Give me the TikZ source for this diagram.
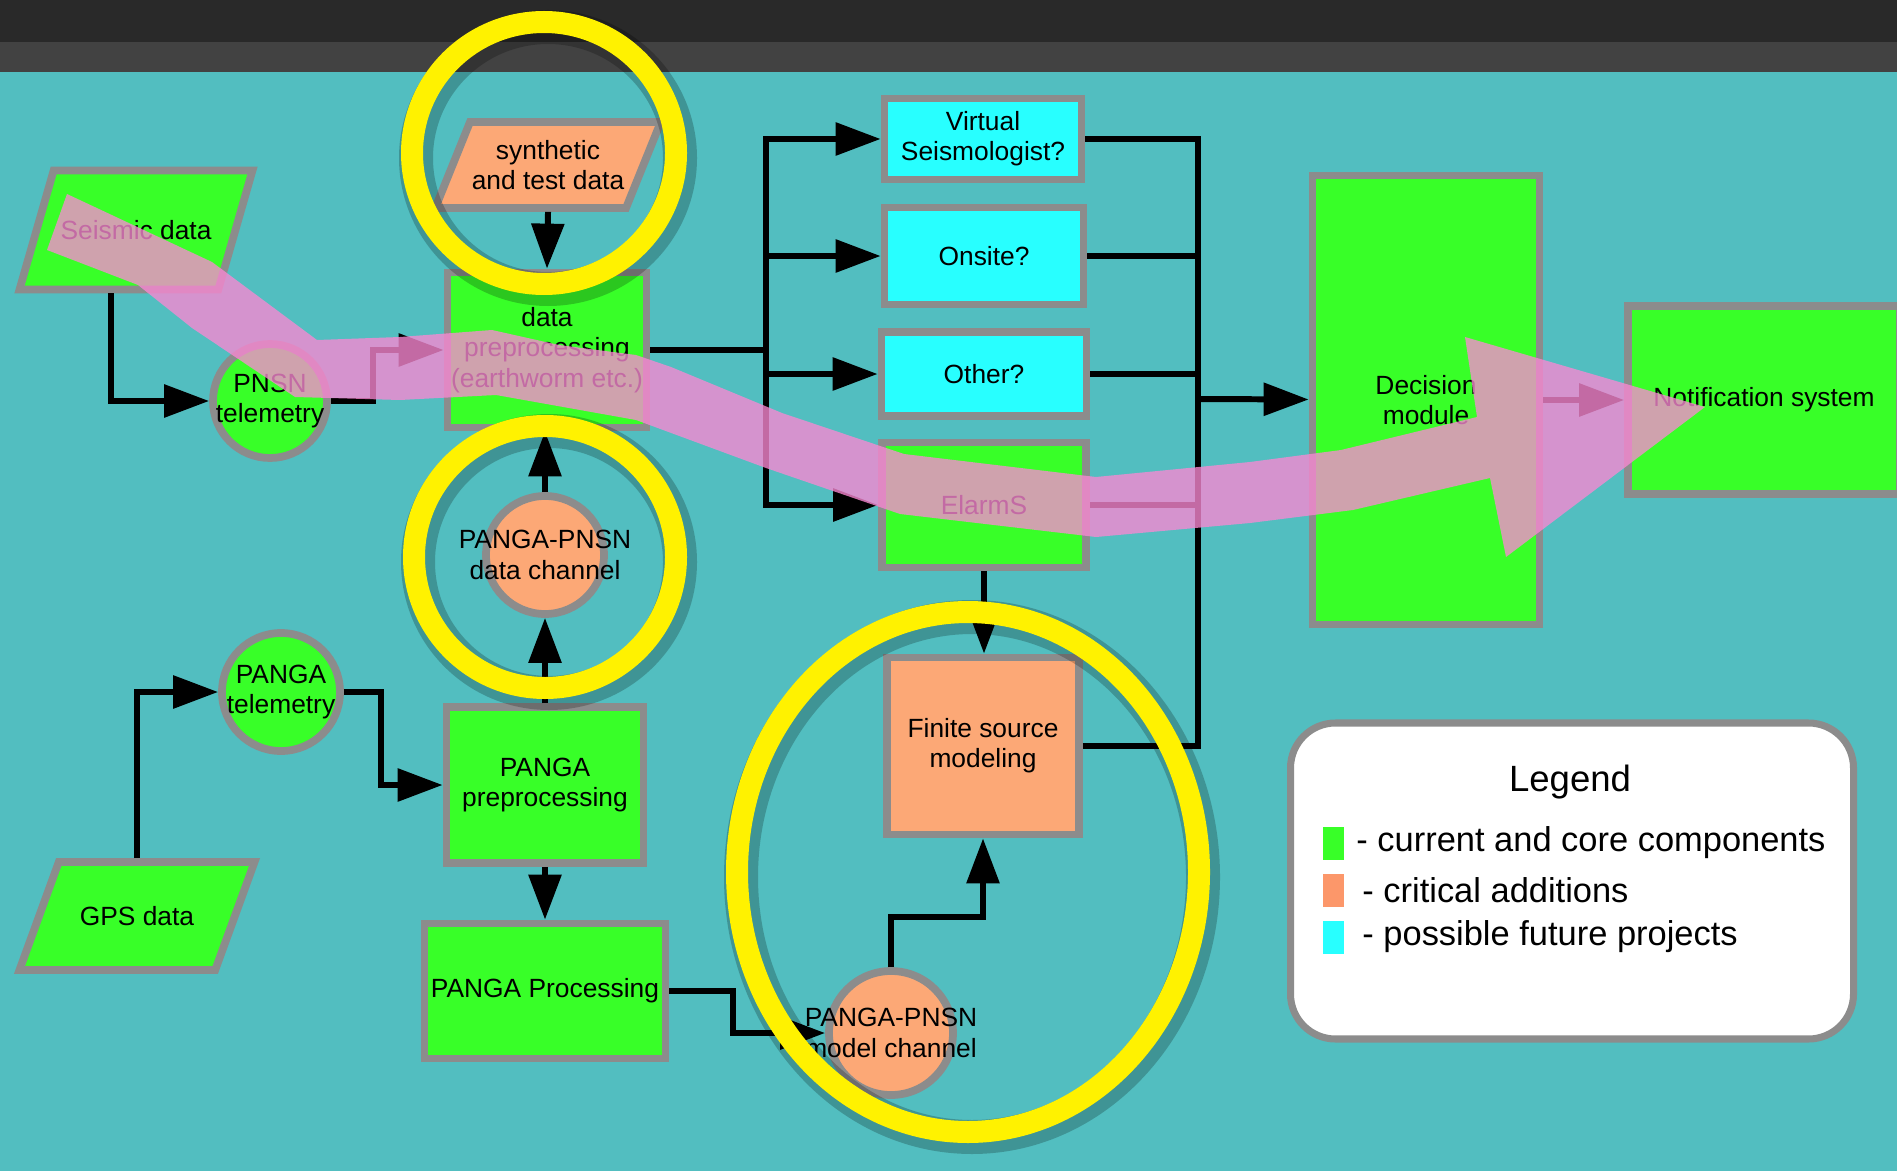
\documentclass[tikz,border=0pt]{standalone}
\usepackage{fontspec}
\setmainfont{Liberation Sans}
\usetikzlibrary{shapes.geometric,arrows.meta}

\definecolor{sea}{RGB}{82,190,192}
\definecolor{core}{RGB}{56,255,40}
\definecolor{critical}{RGB}{252,168,118}
\definecolor{future}{RGB}{40,255,255}
\definecolor{rim}{RGB}{140,140,140}
\definecolor{flow}{RGB}{250,136,211}

\begin{document}
\begin{tikzpicture}[
				line join=miter,
				every node/.style={font=\fontsize{7.5}{8.6}\selectfont, align=center},
				block/.style={rectangle, draw=rim, line width=2.2pt, inner sep=0.5pt},
				chan/.style={circle, draw=rim, line width=2.2pt, inner sep=0pt},
				feed/.style={trapezium, trapezium stretches body=true, draw=rim, line width=2.2pt, inner xsep=0.5pt},
				wire/.style={line width=1.7pt},
				arr/.style={wire, -{Triangle[length=0.45cm, width=0.32cm]}},
				ring/.style={draw=yellow, line width=0.22cm},
				ringshade/.style={draw=black, opacity=0.22, line width=0.34cm},
				keytxt/.style={anchor=west, font=\fontsize{9.8}{11}\selectfont}
				]
				% Background
				\useasboundingbox (0,0) rectangle (18.97,11.71);
				\fill[sea] (0,0) rectangle (18.97,11.71);
				\fill[black!74] (0,10.99) rectangle (18.97,11.29);
				\fill[black!84] (0,11.29) rectangle (18.97,11.71);
				
				% Data sources
				\node[feed, fill=core, trapezium left angle=74, trapezium right angle=106, minimum width=2.33cm, inner ysep=14.2pt] (seis) at (1.36,9.41) {Seismic data};
				\node[feed, fill=critical, trapezium left angle=68, trapezium right angle=112, minimum width=2.15cm, inner ysep=5.2pt] (synth) at (5.48,10.06) {synthetic\\and test data};
				\node[feed, fill=core, trapezium left angle=70, trapezium right angle=110, minimum width=2.35cm, inner ysep=12.6pt] (gps) at (1.37,2.55) {GPS data};
				
				% Channels
				\node[chan, fill=core, minimum size=1.14cm, label={center:PNSN\\telemetry}] (pnsn) at (2.70,7.70) {};
				\node[chan, fill=core, minimum size=1.18cm, label={center:PANGA\\telemetry}] (pangatel) at (2.81,4.79) {};
				\node[chan, fill=critical, minimum size=1.18cm, label={center:PANGA-PNSN\\data channel}] (datachan) at (5.45,6.16) {};
				\node[chan, fill=critical, minimum size=1.24cm, label={center:PANGA-PNSN\\model channel}] (modelchan) at (8.91,1.38) {};
				
				% Processing
				\node[block, fill=core, minimum width=1.99cm, minimum height=1.55cm] (dataprep) at (5.47,8.21) {data\\preprocessing\\(earthworm etc.)};
				\node[block, fill=core, minimum width=1.97cm, minimum height=1.56cm] (pangapre) at (5.45,3.86) {PANGA\\preprocessing};
				\node[block, fill=core, minimum width=2.41cm, minimum height=1.35cm] (pangaproc) at (5.45,1.80) {PANGA Processing};
				
				% Algorithms
				\node[block, fill=future, minimum width=1.97cm, minimum height=0.81cm] (vs) at (9.83,10.32) {Virtual\\Seismologist?};
				\node[block, fill=future, minimum width=1.99cm, minimum height=0.97cm] (onsite) at (9.84,9.15) {Onsite?};
				\node[block, fill=future, minimum width=2.05cm, minimum height=0.84cm] (other) at (9.84,7.97) {Other?};
				\node[block, fill=core, minimum width=2.04cm, minimum height=1.25cm] (elarms) at (9.84,6.66) {ElarmS};
				\node[block, fill=critical, minimum width=1.92cm, minimum height=1.77cm] (finite) at (9.83,4.25) {Finite source\\modeling};
				
				% Output
				\node[block, fill=core, minimum width=2.27cm, minimum height=4.49cm] (decision) at (14.26,7.71) {Decision\\module};
				\node[block, fill=core, minimum width=2.72cm, minimum height=1.88cm] (notif) at (17.64,7.71) {Notification system};
				
				% Connectors
				\draw[arr] ([xshift=-0.25cm]seis.south) |- (pnsn);
				\draw[arr] (pnsn.east) -- ++(0.42,0) |- (dataprep);
				\draw[arr] (synth.south) -- (dataprep.north);
				\draw[arr] (datachan.north) -- (datachan.north |- dataprep.south);
				\draw[arr] (pangapre.north) -- (datachan.south);
				\draw[arr] (gps.north) |- (pangatel);
				\draw[arr] (pangatel.east) -- ++(0.37,0) |- (pangapre);
				\draw[arr] (pangapre) -- (pangaproc);
				\draw[arr] (pangaproc.east) -- ++(0.64,0) |- (modelchan);
				\draw[arr] (modelchan.north) -- ++(0,0.50) -| (finite);
				\draw[arr] (elarms.south) -- (elarms.south |- finite.north);
				
				\coordinate (fork) at (7.66,8.21);
				\draw[wire] (dataprep.east) -- (fork);
				\foreach \t in {vs,onsite,other,elarms}
					\draw[arr] (fork) |- (\t);
				
				\coordinate (merge) at (11.98,7.72);
				\foreach \s in {vs,onsite,other,elarms,finite}
					\draw[wire] (\s.east) -| (merge);
				\draw[arr] (merge) -- (decision);
				\draw[arr] (decision) -- (notif);
				
				% Legend
				\node[draw=rim, line width=2pt, fill=white, rounded corners=0.45cm, minimum width=5.63cm, minimum height=3.16cm] (legend) at (15.72,2.90) {};
				\node[font=\fontsize{10.4}{12}\selectfont] (legtitle) at (15.70,3.89) {Legend};
				\node[fill=core, minimum width=0.21cm, minimum height=0.33cm, inner sep=0pt] (keycore) at (13.33,3.28) {};
				\node[fill=critical!90!red, minimum width=0.21cm, minimum height=0.33cm, inner sep=0pt] (keycrit) at (13.33,2.81) {};
				\node[fill=future, minimum width=0.21cm, minimum height=0.33cm, inner sep=0pt] (keyfut) at (13.33,2.34) {};
				\node[keytxt] (keycoretxt) at (13.44,3.28) {- current and core components};
				\node[keytxt] (keycrittxt) at (13.50,2.81) {- critical additions};
				\node[keytxt] (keyfuttxt) at (13.50,2.34) {- possible future projects};
				
				% Flow overlay
				\fill[flow, opacity=0.78] (0.67,9.77) -- (2.12,9.09) -- (3.17,8.31) -- (4.00,8.34) -- (4.92,8.41)
					-- (5.59,8.26) -- (6.36,8.16) -- (6.71,8.04) -- (7.82,7.58) -- (9.04,7.17) -- (10.96,6.94)
					-- (12.50,7.09) -- (13.41,7.21) -- (14.77,7.54) -- (14.65,8.34) -- (17.05,7.64) -- (15.06,6.14)
					-- (14.90,6.93) -- (13.53,6.61) -- (12.50,6.48) -- (10.96,6.34) -- (9.00,6.57) -- (7.66,7.03)
					-- (6.36,7.51) -- (4.96,7.76) -- (4.00,7.71) -- (2.95,7.74) -- (1.92,8.43) -- (1.38,8.86)
					-- (0.47,9.21) -- cycle;
				
				% Highlight rings
				\draw[ringshade] (5.48,10.13) ellipse (1.32 and 1.31);
				\draw[ringshade] (5.49,6.09) ellipse (1.31 and 1.31);
				\draw[ringshade] (9.72,2.94) ellipse (2.31 and 2.60);
				\draw[ring] (5.44,10.18) ellipse (1.32 and 1.31);
				\draw[ring] (5.45,6.14) ellipse (1.31 and 1.31);
				\draw[ring] (9.68,2.99) ellipse (2.31 and 2.60);
			\end{tikzpicture}
\end{document}
